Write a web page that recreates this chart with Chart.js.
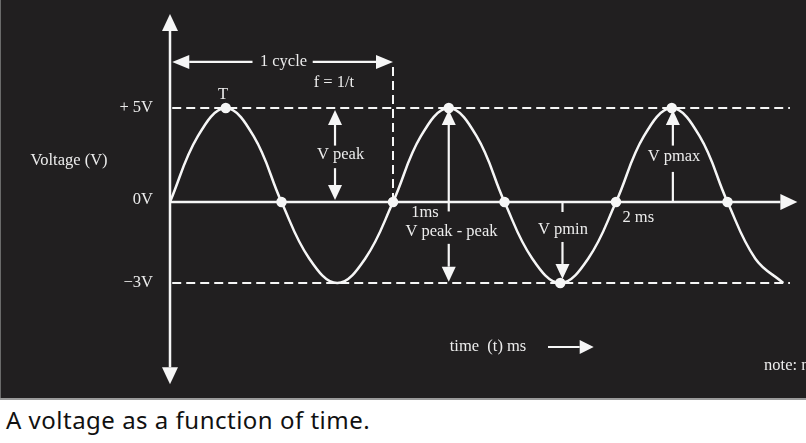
<!DOCTYPE html>
<html>
<head>
<meta charset="utf-8">
<script src="https://cdn.jsdelivr.net/npm/chart.js@4.4.1/dist/chart.umd.min.js"></script>
<style>
  html, body { margin: 0; padding: 0; background: #ffffff; }
  #wrap { position: relative; width: 806px; height: 443px; overflow: hidden; }
  #chart { position: absolute; left: 0; top: 0; }
  #caption {
    position: absolute; left: 6px; top: 405px; line-height: 30px;
    font-family: "Noto Sans", "Open Sans", sans-serif; font-size: 24px;
    letter-spacing: 0.5px; color: #111111; white-space: nowrap;
  }
</style>
</head>
<body>
<div id="wrap">
  <canvas id="chart" width="806" height="400"></canvas>
  <div id="caption">A voltage as a function of time.</div>
</div>
<script>
// time in ms (1 cycle = 1 ms), read every 1/8 cycle
const times = [0, 0.125, 0.25, 0.375, 0.5, 0.625, 0.75, 0.875,
               1, 1.125, 1.25, 1.375, 1.5, 1.625, 1.75, 1.875,
               2, 2.125, 2.25, 2.375, 2.5, 2.625, 2.75];
// voltage in V
const volts = [0, 3.5, 5, 3.5, 0, -2.1, -3, -2.1,
               0, 3.5, 5, 3.5, 0, -2.1, -3, -2.1,
               0, 3.5, 5, 3.5, 0, -2.1, -3];
// indexes of points marked with a dot
const dotIdx = [2, 4, 8, 10, 12, 14, 16, 18, 20];

const levels = [5, 0, -3];
const levelLabels = ['+ 5V', '0V', '\u22123V'];
const dashLevels = [5, -3];
const dashEnd = 2.78;
const cycleMarker = 1;
const cycleLevel = 7.45;

// the drawing is not to scale: the negative half is stretched
const NEG = 27 / 18.8;
const ay = v => v < 0 ? v * NEG : v;

const FG = '#f6f6f6';
const TXT = '#ececec';
const SERIF = '"Liberation Serif", "DejaVu Serif", serif';

function arrow(ctx, x1, y1, x2, y2, len, half) {
  const a = Math.atan2(y2 - y1, x2 - x1);
  const bx = x2 - Math.cos(a) * len, by = y2 - Math.sin(a) * len;
  ctx.beginPath();
  ctx.moveTo(x1, y1);
  ctx.lineTo(bx, by);
  ctx.stroke();
  ctx.beginPath();
  ctx.moveTo(x2, y2);
  ctx.lineTo(bx - Math.sin(a) * half, by + Math.cos(a) * half);
  ctx.lineTo(bx + Math.sin(a) * half, by - Math.cos(a) * half);
  ctx.closePath();
  ctx.fill();
}

const backdrop = {
  id: 'backdrop',
  beforeDraw(chart) {
    const ctx = chart.ctx;
    ctx.save();
    ctx.fillStyle = '#211f20';
    ctx.fillRect(0, 0, chart.width, 398);
    ctx.fillStyle = '#9a9a9a';
    ctx.fillRect(0, 398, chart.width, 2);
    ctx.fillStyle = '#6a6a6a';
    ctx.fillRect(0, 0, 1, 398);
    ctx.restore();
  },
  beforeDatasetsDraw(chart) {
    const { ctx, scales: { x, y } } = chart;
    const X = v => x.getPixelForValue(v);
    const Y = v => y.getPixelForValue(ay(v));
    ctx.save();
    ctx.strokeStyle = FG;
    ctx.fillStyle = FG;
    ctx.lineWidth = 2.5;
    // axes
    arrow(ctx, X(0), Y(0), X(0), y.top, 17, 8);
    arrow(ctx, X(0), Y(0), X(0), y.bottom, 17, 8);
    arrow(ctx, X(0), Y(0), x.right + 3, Y(0), 17, 8);

    ctx.lineWidth = 2.2;
    // 1 cycle arrows
    arrow(ctx, X(0.37), Y(cycleLevel), X(0.01), Y(cycleLevel), 17, 7);
    arrow(ctx, X(0.64), Y(cycleLevel), X(cycleMarker), Y(cycleLevel), 17, 7);
    // V peak
    arrow(ctx, X(0.74), Y(3.0), X(0.74), Y(4.9), 15, 7);
    arrow(ctx, X(0.74), Y(1.8), X(0.74), Y(0.1), 15, 7);
    // V peak - peak
    arrow(ctx, X(1.25), Y(-0.35), X(1.25), Y(4.9), 15, 7);
    arrow(ctx, X(1.25), Y(-1.55), X(1.25), Y(-2.95), 15, 7);
    // V pmin
    ctx.beginPath(); ctx.moveTo(X(1.76), Y(0)); ctx.lineTo(X(1.76), Y(-0.37)); ctx.stroke();
    arrow(ctx, X(1.76), Y(-1.48), X(1.76), Y(-2.85), 15, 7);
    // V pmax
    arrow(ctx, X(2.255), Y(3.0), X(2.255), Y(4.9), 15, 7);
    ctx.beginPath(); ctx.moveTo(X(2.255), Y(0)); ctx.lineTo(X(2.255), Y(1.6)); ctx.stroke();
    // time arrow
    arrow(ctx, X(1.695), Y(-5.37), X(1.9), Y(-5.37), 14, 7);
    ctx.restore();
  },
  afterDatasetsDraw(chart) {
    const { ctx, scales: { x, y } } = chart;
    const X = v => x.getPixelForValue(v);
    const Y = v => y.getPixelForValue(ay(v));
    ctx.save();
    ctx.fillStyle = TXT;
    ctx.font = '16.5px ' + SERIF;
    ctx.textBaseline = 'middle';
    ctx.textAlign = 'right';
    levels.forEach((v, i) => ctx.fillText(levelLabels[i], x.left - 17, Y(v) - (v === 0 ? 2 : 0)));
    ctx.textAlign = 'center';
    ctx.fillText('Voltage (V)', x.left - 101, Y(2.19));
    const notes = [
      ['T', 0.238, 5.7], ['1 cycle', 0.509, 7.45], ['f = 1/t', 0.735, 6.33],
      ['V peak', 0.765, 2.5], ['1ms', 1.143, -0.41], ['V peak - peak', 1.262, -1.1],
      ['V pmin', 1.762, -1.04], ['2 ms', 2.1, -0.59], ['V pmax', 2.26, 2.39],
      ['time  (t) ms', 1.426, -5.37]
    ];
    notes.forEach(([t, tx, v]) => ctx.fillText(t, X(tx), Y(v)));
    ctx.textAlign = 'left';
    ctx.fillText('note: not to scale', X(2.664), Y(-6.07));
    ctx.restore();
  }
};

const curve = times.map((t, i) => ({ x: t, y: ay(volts[i]) }));
const dashSets = dashLevels.map(v => ({
  data: [{ x: 0.01, y: ay(v) }, { x: dashEnd, y: ay(v) }],
  borderColor: FG, borderWidth: 2, borderDash: [9, 5], pointRadius: 0
}));

new Chart(document.getElementById('chart'), {
  type: 'line',
  data: {
    datasets: [
      {
        data: curve,
        borderColor: FG,
        borderWidth: 2.5,
        tension: 0.4,
        pointRadius: times.map((t, i) => dotIdx.includes(i) ? 4 : 0),
        pointBackgroundColor: FG,
        pointBorderColor: FG
      },
      ...dashSets,
      {
        data: [{ x: cycleMarker, y: 0 }, { x: cycleMarker, y: ay(cycleLevel) }],
        borderColor: FG, borderWidth: 2, borderDash: [9, 5], pointRadius: 0
      }
    ]
  },
  options: {
    responsive: false,
    animation: false,
    layout: { padding: { left: 170, right: 11.6, top: 14, bottom: 15.64 } },
    plugins: { legend: { display: false }, tooltip: { enabled: false } },
    scales: {
      x: { type: 'linear', min: 0, max: 2.8, display: false },
      y: { type: 'linear', min: -9.7, max: 10, display: false }
    }
  },
  plugins: [backdrop]
});
</script>
</body>
</html>
